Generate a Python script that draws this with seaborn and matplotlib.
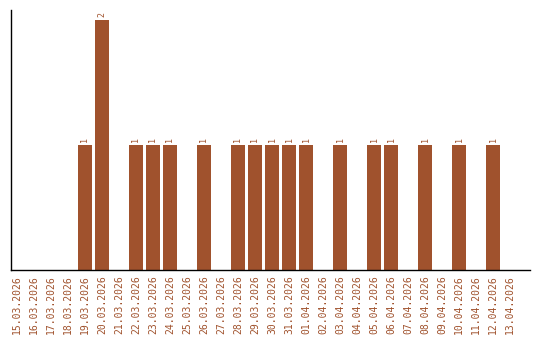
import matplotlib
matplotlib.use("Agg")
import matplotlib.pyplot as plt
import seaborn as sns
import pandas as pd

dates = ["15.03.2026", "16.03.2026", "17.03.2026", "18.03.2026", "19.03.2026",
         "20.03.2026", "21.03.2026", "22.03.2026", "23.03.2026", "24.03.2026",
         "25.03.2026", "26.03.2026", "27.03.2026", "28.03.2026", "29.03.2026",
         "30.03.2026", "31.03.2026", "01.04.2026", "02.04.2026", "03.04.2026",
         "04.04.2026", "05.04.2026", "06.04.2026", "07.04.2026", "08.04.2026",
         "09.04.2026", "10.04.2026", "11.04.2026", "12.04.2026", "13.04.2026"]
counts = [0, 0, 0, 0, 1, 2, 0, 1, 1, 1, 0, 1, 0, 1, 1, 1, 1, 1, 0, 1,
          0, 1, 1, 0, 1, 0, 1, 0, 1, 0]

color = "#A0522D"
df = pd.DataFrame({"date": dates, "count": counts})

sns.set_style("white")
fig = plt.figure(figsize=(5.4, 3.4), dpi=100)
ax = fig.add_axes([0.02, 0.206, 0.962, 0.765])
sns.barplot(data=df, x="date", y="count", color=color, saturation=1, width=0.82,
            linewidth=0, edgecolor=color, ax=ax)

ax.set_ylim(0, 2.08)
ax.set_xlim(-0.353, 30.18)
ax.set_yticks([])
ax.set_xlabel("")
ax.set_ylabel("")
for s in ["top", "right"]:
    ax.spines[s].set_visible(False)
for s in ["left", "bottom"]:
    ax.spines[s].set_color("black")
    ax.spines[s].set_linewidth(1)
ax.tick_params(axis="x", length=0, pad=4)
ax.set_xticks(range(len(dates)))
ax.set_xticklabels(dates, rotation=90, fontsize=7, color=color, family="DejaVu Sans Mono")

for i, v in enumerate(counts):
    if v > 0:
        ax.text(i, v + 0.02, str(v), rotation=90, ha="center", va="bottom",
                fontsize=6, color=color, family="DejaVu Sans Mono")

fig.savefig("out.png", dpi=100)
